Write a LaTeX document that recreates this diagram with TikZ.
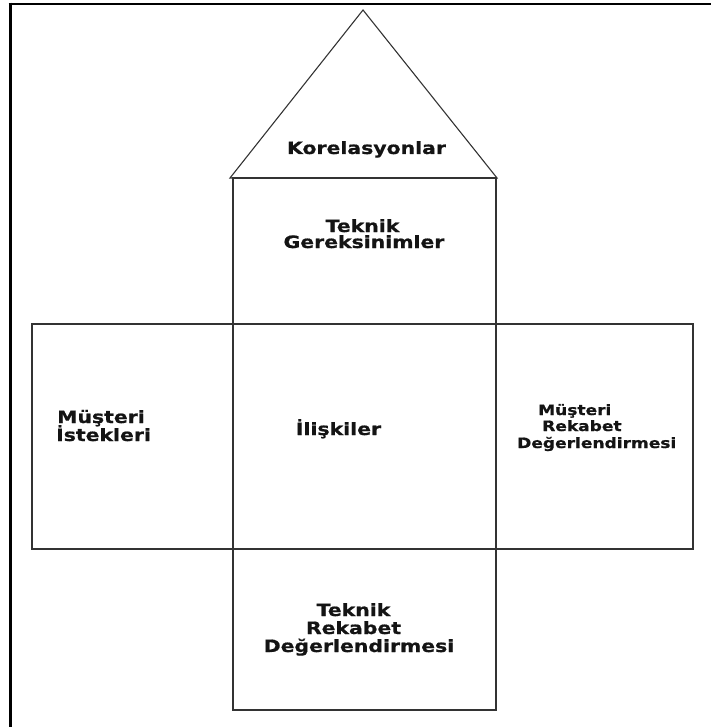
\documentclass[tikz,border=0pt]{standalone}
\usepackage{fontspec}
\newfontface\vb[FakeStretch=1.2,FakeBold=0.8]{DejaVu Sans Bold}
\definecolor{linec}{HTML}{333333}
\definecolor{textc}{HTML}{141414}
\begin{document}
\begin{tikzpicture}[x=1pt,y=-1pt,
  boxline/.style={draw=linec,line width=1.1pt},
  frameline/.style={draw=black,line width=3pt},
  lbl/.style={text=textc,inner sep=0pt,anchor=base,font=\vb\fontsize{17}{18}\selectfont},
  slbl/.style={text=textc,inner sep=0pt,anchor=base west,font=\vb\fontsize{14.2}{16}\selectfont}]
\useasboundingbox (0,0) rectangle (711,727);
% outer frame (only top and left visible)
\draw[frameline,line width=2.5pt] (8.5,4) -- (711,4);
\draw[frameline] (10,2.75) -- (10,727);
% roof
\coordinate (apex) at (363,10);
\coordinate (roofL) at (230,178);
\coordinate (roofR) at (497,178);
\draw[boxline,line join=miter] (roofL) -- (apex) -- (roofR) -- cycle;
% central column
\draw[boxline] (233,178) rectangle (496,710);
% horizontal band
\draw[boxline] (32,324) rectangle (693,549);
% labels
\node[lbl] (kor) at (366.5,154) {Korelasyonlar};
\node[lbl] (tg1) at (362.5,232) {Teknik};
\node[lbl] (tg2) at (364,248) {Gereksinimler};
\node[lbl] (ili) at (338.5,435) {İlişkiler};
\node[lbl,anchor=base west] (mi1) at (57,423) {Müşteri};
\node[lbl,anchor=base west] (mi2) at (56,441) {İstekleri};
\node[slbl] (mr1) at (538,415) {Müşteri};
\node[slbl] (mr2) at (542,431) {Rekabet};
\node[slbl] (mr3) at (517,448) {Değerlendirmesi};
\node[lbl] (tr1) at (353.5,616) {Teknik};
\node[lbl] (tr2) at (353.5,634) {Rekabet};
\node[lbl] (tr3) at (359,652) {Değerlendirmesi};
\end{tikzpicture}
\end{document}
